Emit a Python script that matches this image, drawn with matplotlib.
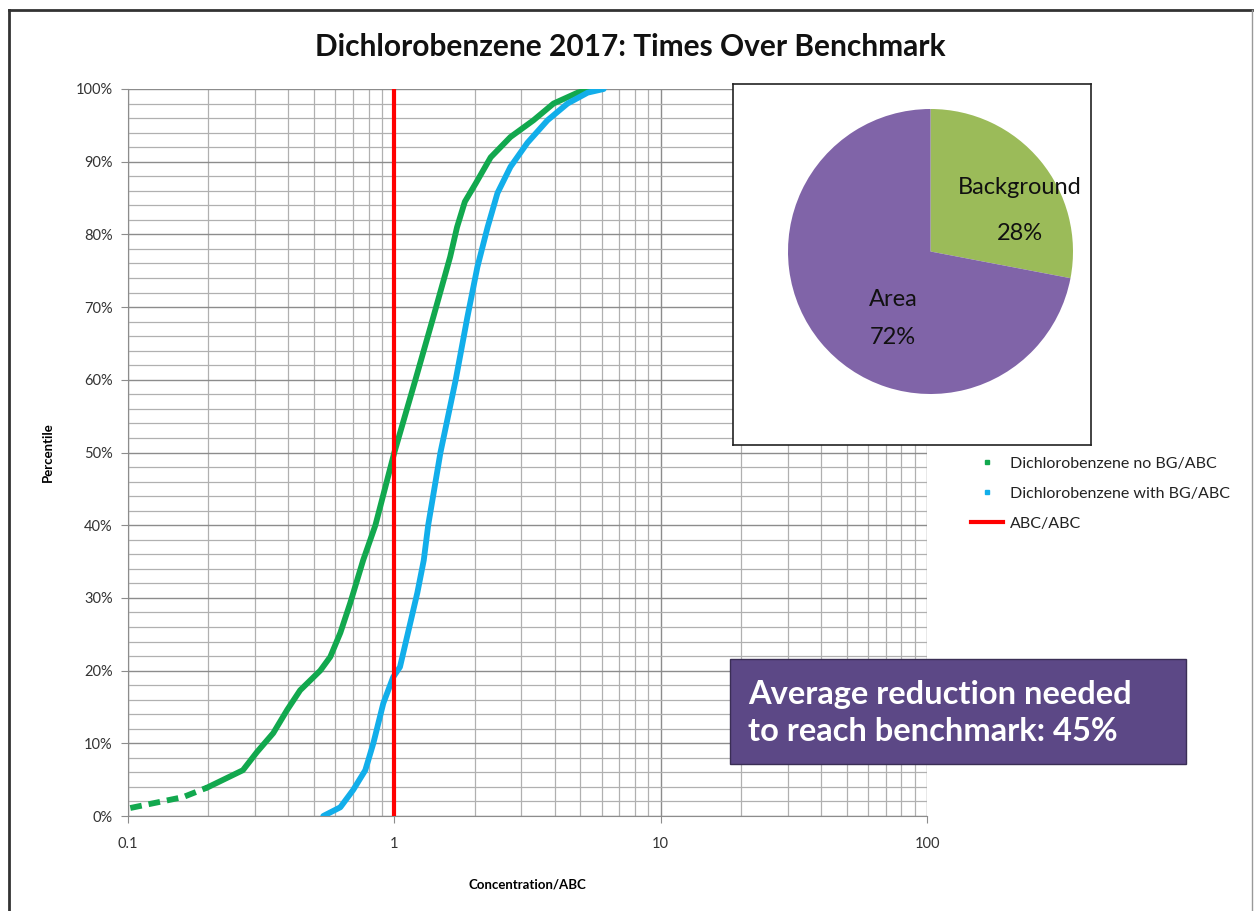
import matplotlib
matplotlib.use("Agg")
import matplotlib.pyplot as plt
from matplotlib.lines import Line2D
from matplotlib.patches import Rectangle
from matplotlib.ticker import FixedLocator, NullFormatter, LogLocator

plt.rcParams['font.family'] = ['Lato', 'DejaVu Sans']

# ---- data ----
green_pct = [1.1, 2.6, 3.9, 6.3, 8.8, 11.4, 14.6, 17.3, 20.0, 21.9, 25.2, 29.3, 35.2,
             40.0, 50.0, 60.0, 68.6, 76.9, 81.0, 84.5, 87.0, 90.6, 93.4, 95.7, 98.0, 99.5, 100.0]
green_conc = [0.102, 0.161, 0.198, 0.270, 0.305, 0.351, 0.396, 0.443, 0.527, 0.575, 0.627, 0.683, 0.764,
              0.849, 1.00, 1.20, 1.40, 1.62, 1.72, 1.84, 2.02, 2.30, 2.73, 3.33, 3.96, 4.88, 5.46]

blue_pct = [0.0, 1.2, 3.6, 6.3, 10.0, 15.5, 19.1, 20.5, 30.7, 35.2, 40.0, 50.0, 60.0,
            68.6, 75.5, 81.0, 85.7, 89.3, 92.6, 95.7, 98.0, 99.5, 100.0]
blue_conc = [0.541, 0.627, 0.701, 0.778, 0.834, 0.909, 0.99, 1.05, 1.22, 1.29, 1.34, 1.49, 1.70,
             1.88, 2.05, 2.24, 2.44, 2.73, 3.16, 3.76, 4.47, 5.32, 6.11]

benchmark = 1.0
x_ticks = [0.1, 1, 10, 100]
x_tick_labels = ['0.1', '1', '10', '100']
y_ticks = [0, 10, 20, 30, 40, 50, 60, 70, 80, 90, 100]
y_tick_labels = [f'{v}%' for v in y_ticks]

pie_labels = ['Background', 'Area']
pie_values = [28, 72]

series_labels = ['Dichlorobenzene no BG/ABC', 'Dichlorobenzene with BG/ABC', 'ABC/ABC']
title = 'Dichlorobenzene 2017: Times Over Benchmark'
note = 'Average reduction needed\nto reach benchmark: 45%'

# ---- colours ----
GREEN = '#12A84E'
BLUE = '#12AEEA'
RED = '#FF0000'
PIE_GREEN = '#9BBB59'
PIE_PURPLE = '#8064A8'
BOX_PURPLE = '#5C4886'

W, H = 1254, 911
fig = plt.figure(figsize=(W / 100, H / 100), dpi=100)

def fx(px):
    return px / W

def fy(py):
    return 1 - py / H

# figure frame
fig.add_artist(Line2D([fx(9), fx(9)], [fy(10), fy(911)], color='#333333', lw=2, transform=fig.transFigure))
fig.add_artist(Line2D([fx(9), fx(1252)], [fy(10), fy(10)], color='#333333', lw=2, transform=fig.transFigure))
fig.add_artist(Line2D([fx(1252), fx(1252)], [fy(10), fy(911)], color='#999999', lw=1, transform=fig.transFigure))

# main axes
ax = fig.add_axes([fx(128), fy(816), fx(927) - fx(128), fy(89) - fy(816)])
ax.set_xscale('log')
ax.set_xlim(0.1, 100)
ax.set_ylim(0, 100)

ax.xaxis.set_major_locator(FixedLocator(x_ticks))
ax.set_xticklabels(x_tick_labels)
ax.xaxis.set_minor_locator(LogLocator(base=10, subs=range(2, 10)))
ax.xaxis.set_minor_formatter(NullFormatter())
ax.set_yticks(y_ticks)
ax.set_yticklabels(y_tick_labels)
ax.set_yticks(range(0, 101, 2), minor=True)

ax.grid(which='major', axis='both', color='#8c8c8c', lw=1.0)
ax.grid(which='minor', axis='both', color='#b0b0b0', lw=0.9)
ax.set_axisbelow(True)
for s in ['top', 'right']:
    ax.spines[s].set_visible(False)
for s in ['left', 'bottom']:
    ax.spines[s].set_color('#8c8c8c')
ax.tick_params(axis='both', which='major', length=5, color='#8c8c8c', labelsize=10.5, colors='#8c8c8c',
               labelcolor='#333333', pad=6)
ax.tick_params(axis='both', which='minor', length=0)
ax.tick_params(axis='x', pad=10)

# curves
ax.plot(green_conc[2:], green_pct[2:], color=GREEN, lw=4.2, solid_capstyle='round',
        solid_joinstyle='round', zorder=4)
ax.plot(green_conc[:3], green_pct[:3], color=GREEN, lw=4.2, ls=(0, (2.0, 1.2)), zorder=4)
ax.plot(blue_conc, blue_pct, color=BLUE, lw=4.2, solid_capstyle='round', solid_joinstyle='round', zorder=4)
ax.plot([benchmark, benchmark], [0, 100], color=RED, lw=3, zorder=5)

ax.set_xlabel('Concentration/ABC', fontsize=9.5, fontweight='bold', labelpad=20)
ax.set_ylabel('Percentile', fontsize=9.5, fontweight='bold', labelpad=16)

fig.text(fx(630), fy(47), title, ha='center', va='center', fontsize=21.5, fontweight='bold', color='#111111')

# legend
handles = [
    Line2D([], [], marker='s', ls='', color=GREEN, ms=3.5),
    Line2D([], [], marker='s', ls='', color=BLUE, ms=3.5),
    Line2D([], [], color=RED, lw=3),
]
fig.legend(handles=handles, labels=series_labels, loc='upper left',
           bbox_to_anchor=(fx(957), fy(442)), frameon=False, fontsize=11.5,
           labelspacing=1.0, handlelength=2.0, handletextpad=0.4, labelcolor='#222222')

# note box
fig.text(fx(748), fy(713), note, ha='left', va='center', fontsize=23.5, fontweight='bold', color='white',
         linespacing=1.35, zorder=10)
fig.add_artist(Rectangle((fx(730), fy(764)), fx(1186) - fx(730), fy(659) - fy(764),
                         transform=fig.transFigure, facecolor=BOX_PURPLE, edgecolor='#3a2e55',
                         lw=1, zorder=9))

# pie inset
pax = fig.add_axes([fx(733), fy(445), fx(1091) - fx(733), fy(84) - fy(445)])
pax.set_facecolor('white')
cx, cy, r = 930.5 - 733, 445 - 251.5, 142.5
pax.pie(pie_values, colors=[PIE_GREEN, PIE_PURPLE], startangle=90, counterclock=False,
        center=(cx, cy), radius=r, frame=True)
pax.set_xlim(0, 358)
pax.set_ylim(0, 361)
pax.set_xticks([])
pax.set_yticks([])
for s in pax.spines.values():
    s.set_color('#222222')
    s.set_linewidth(1.2)
pax.text(1020 - 733, 445 - 188, pie_labels[0], ha='center', va='center', fontsize=17, color='#111111')
pax.text(1020 - 733, 445 - 233, f'{pie_values[0]}%', ha='center', va='center', fontsize=17, color='#111111')
pax.text(893 - 733, 445 - 300, pie_labels[1], ha='center', va='center', fontsize=17, color='#111111')
pax.text(893 - 733, 445 - 337, f'{pie_values[1]}%', ha='center', va='center', fontsize=17, color='#111111')

fig.savefig('out.png', dpi=100)
